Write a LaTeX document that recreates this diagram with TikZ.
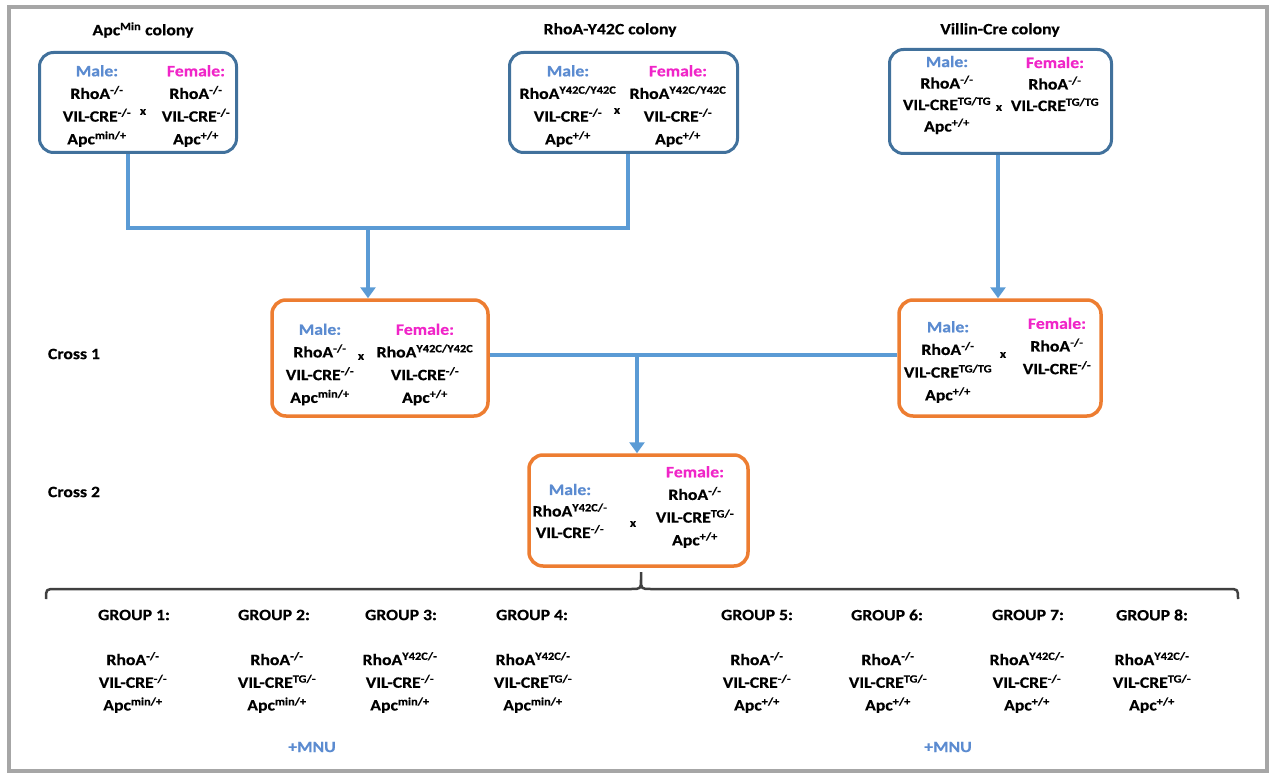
\documentclass[tikz,border=0pt]{standalone}
\usepackage{fontspec}
\setmainfont{Carlito}[FakeStretch=1.12, BoldFeatures={FakeBold=0.5}]
\usetikzlibrary{arrows.meta}
\definecolor{boxblue}{HTML}{41719C}
\definecolor{linkblue}{HTML}{5B9BD5}
\definecolor{boxorange}{HTML}{ED7D31}
\definecolor{malecol}{HTML}{5B8BD0}
\definecolor{femalecol}{HTML}{F025C8}
\definecolor{framegray}{HTML}{A6A6A6}
\definecolor{bracegray}{HTML}{404040}
\newcommand\su[1]{\textsuperscript{#1}}
\newcommand\ml{\textcolor{malecol}{Male:}}
\newcommand\fm{\textcolor{femalecol}{Female:}}
\begin{document}
\begin{tikzpicture}[x=1pt,y=-1pt,
  txt/.style={inner sep=0pt, align=center, font=\fontsize{15.8}{22.7}\selectfont\bfseries},
  crossmark/.style={inner sep=0pt, font=\fontsize{12}{12}\selectfont\bfseries},
  colonybox/.style={draw=boxblue, line width=3pt, rounded corners=14pt, inner sep=0pt},
  crossbox/.style={draw=boxorange, line width=3.5pt, rounded corners=14pt, inner sep=0pt},
  link/.style={draw=linkblue, line width=4pt},
  linkarrow/.style={link, -{Triangle[width=15pt,length=11pt]}},
]
\useasboundingbox (0,0) rectangle (1270,773);
\draw[framegray, line width=4pt] (9,7) rectangle (1267,771);

% colony titles
\node[txt] (t1) at (143,30) {Apc\su{Min} colony};
\node[txt] (t2) at (610,30) {RhoA-Y42C colony};
\node[txt] (t3) at (1000,30) {Villin-Cre colony};

% colony boxes
\node[colonybox, minimum width=197pt, minimum height=100pt] (b1) at (138,102.5) {};
\node[colonybox, minimum width=228pt, minimum height=100pt] (b2) at (623.5,102.5) {};
\node[colonybox, minimum width=222pt, minimum height=104pt] (b3) at (1000.5,101.5) {};

\node[txt] (b1m) at (97,106) {\ml\\RhoA\su{-/-}\\VIL-CRE\su{-/-}\\Apc\su{min/+}};
\node[txt] (b1f) at (196,106) {\fm\\RhoA\su{-/-}\\VIL-CRE\su{-/-}\\Apc\su{+/+}};
\node[crossmark] (b1x) at (143,112) {x};

\node[txt] (b2m) at (568,106) {\ml\\RhoA\su{Y42C/Y42C}\\VIL-CRE\su{-/-}\\Apc\su{+/+}};
\node[txt] (b2f) at (678,106) {\fm\\RhoA\su{Y42C/Y42C}\\VIL-CRE\su{-/-}\\Apc\su{+/+}};
\node[crossmark] (b2x) at (617,111) {x};

\node[txt, font=\fontsize{15.8}{21.5}\selectfont\bfseries] (b3m) at (947,95) {\ml\\RhoA\su{-/-}\\VIL-CRE\su{TG/TG}\\Apc\su{+/+}};
\node[txt, font=\fontsize{15.8}{21.5}\selectfont\bfseries] (b3f) at (1055,84) {\fm\\RhoA\su{-/-}\\VIL-CRE\su{TG/TG}};
\node[crossmark] (b3x) at (999,108) {x};

% first cross
\node[crossbox, minimum width=216pt, minimum height=116pt] (b4) at (380,358) {};
\node[crossbox, minimum width=202pt, minimum height=116pt] (b5) at (1000,358) {};

\node[txt] (b4m) at (320,364.5) {\ml\\RhoA\su{-/-}\\VIL-CRE\su{-/-}\\Apc\su{min/+}};
\node[txt] (b4f) at (425,364.5) {\fm\\RhoA\su{Y42C/Y42C}\\VIL-CRE\su{-/-}\\Apc\su{+/+}};
\node[crossmark] (b4x) at (361,357) {x};

\node[txt] (b5m) at (948,362) {\ml\\RhoA\su{-/-}\\VIL-CRE\su{TG/TG}\\Apc\su{+/+}};
\node[txt] (b5f) at (1057,346) {\fm\\RhoA\su{-/-}\\VIL-CRE\su{-/-}};
\node[crossmark] (b5x) at (1003,355) {x};

% second cross
\node[crossbox, minimum width=219pt, minimum height=111pt] (b6) at (638.5,510.5) {};
\node[txt, font=\fontsize{15.8}{21.5}\selectfont\bfseries] (b6m) at (570,511) {\ml\\RhoA\su{Y42C/-}\\VIL-CRE\su{-/-}};
\node[txt] (b6f) at (695,507) {\fm\\RhoA\su{-/-}\\VIL-CRE\su{TG/-}\\Apc\su{+/+}};
\node[crossmark] (b6x) at (633,524) {x};

% row labels
\node[txt] (c1) at (74,354) {Cross 1};
\node[txt] (c2) at (74,492) {Cross 2};

% connectors
\coordinate (j1) at (128,228);
\coordinate (j2) at (628,228);
\coordinate (j3) at (368,228);
\coordinate (j4) at (998,228);
\coordinate (j5) at (637,355);
\draw[link] (b1.south -| j1) -- (j1) -- (j2) -- (b2.south -| j2);
\draw[linkarrow] (j3) -- (b4.north -| j3);
\draw[linkarrow] (b3.south -| j4) -- (b5.north -| j4);
\draw[link] (b4.east |- j5) -- (b5.west |- j5);
\draw[linkarrow] (j5) -- (b6.north -| j5);

% brace over the groups
\draw[bracegray, line width=2.5pt, line join=round]
  (46,599) .. controls (46,589) .. (56,589) -- (631,589)
  .. controls (641,589) .. (641,579) -- (641,572)
  (641,579) .. controls (641,589) .. (651,589) -- (1228,589)
  .. controls (1238,589) .. (1238,599);

% groups
\foreach \n/\hx/\gx/\g in {
  1/134/133/{RhoA\su{-/-}\\VIL-CRE\su{-/-}\\Apc\su{min/+}},
  2/274/277/{RhoA\su{-/-}\\VIL-CRE\su{TG/-}\\Apc\su{min/+}},
  3/401/400/{RhoA\su{Y42C/-}\\VIL-CRE\su{-/-}\\Apc\su{min/+}},
  4/532/533/{RhoA\su{Y42C/-}\\VIL-CRE\su{TG/-}\\Apc\su{min/+}},
  5/757/757/{RhoA\su{-/-}\\VIL-CRE\su{-/-}\\Apc\su{+/+}},
  6/887/888/{RhoA\su{-/-}\\VIL-CRE\su{TG/-}\\Apc\su{+/+}},
  7/1028/1027/{RhoA\su{Y42C/-}\\VIL-CRE\su{-/-}\\Apc\su{+/+}},
  8/1152/1152/{RhoA\su{Y42C/-}\\VIL-CRE\su{TG/-}\\Apc\su{+/+}}}{
  \node[txt] (g\n) at (\hx,615) {GROUP \n:};
  \node[txt] (gt\n) at (\gx,682.5) {\g};
}
\node[txt, text=malecol] (mnu1) at (312,747) {+MNU};
\node[txt, text=malecol] (mnu2) at (948,747) {+MNU};
\end{tikzpicture}
\end{document}
